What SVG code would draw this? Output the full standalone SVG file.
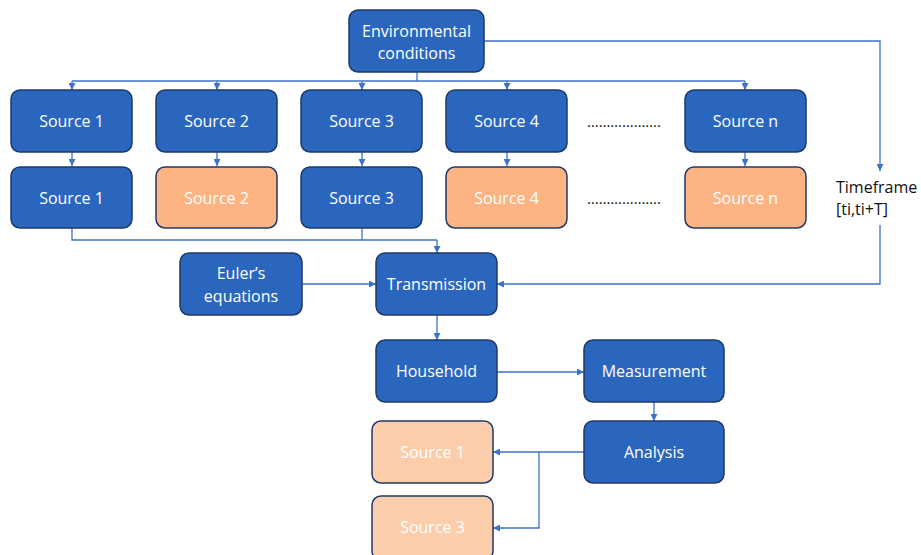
<svg xmlns="http://www.w3.org/2000/svg" width="921" height="555" viewBox="0 0 921 555">
<style>
.b{fill:#2B66BE;stroke:#1E3A6A;stroke-width:1.5}
.o{fill:#FDB482;stroke:#1E3A6A;stroke-width:1.5}
.l{fill:#FCCDAA;stroke:#1E3A6A;stroke-width:1.5}
.t{font-family:"Open Sans","Liberation Sans",sans-serif;font-size:16px;fill:#fff;text-anchor:middle;dominant-baseline:central}
.k{font-family:"Open Sans","Liberation Sans",sans-serif;font-size:16px;fill:#111;dominant-baseline:central}
.d{font-family:"Open Sans","Liberation Sans",sans-serif;font-size:15px;fill:#111;dominant-baseline:central}
.c{fill:none;stroke:#3D72C8;stroke-width:1.3}
</style>
<defs>
<marker id="a" viewBox="0 0 10 10" refX="10" refY="5" markerWidth="7" markerHeight="7" markerUnits="userSpaceOnUse" orient="auto">
<path d="M0,0L10,5L0,10z" fill="#3D72C8"/>
</marker>
</defs>
<g id="connectors">
<path class="c" d="M417,72V81"/>
<path class="c" d="M72,81H745"/>
<path class="c" d="M72,81V90" marker-end="url(#a)"/>
<path class="c" d="M217,81V90" marker-end="url(#a)"/>
<path class="c" d="M362,81V90" marker-end="url(#a)"/>
<path class="c" d="M507,81V90" marker-end="url(#a)"/>
<path class="c" d="M745,81V90" marker-end="url(#a)"/>
<path class="c" d="M484,41H880V171" marker-end="url(#a)"/>
<path class="c" d="M72,152V166" marker-end="url(#a)"/>
<path class="c" d="M217,152V166" marker-end="url(#a)"/>
<path class="c" d="M362,152V166" marker-end="url(#a)"/>
<path class="c" d="M507,152V166" marker-end="url(#a)"/>
<path class="c" d="M745,152V166" marker-end="url(#a)"/>
<path class="c" d="M72,228V240H437"/>
<path class="c" d="M362,228V240"/>
<path class="c" d="M437,240V253" marker-end="url(#a)"/>
<path class="c" d="M302,284H376" marker-end="url(#a)"/>
<path class="c" d="M880,225V284H497" marker-end="url(#a)"/>
<path class="c" d="M437,315V340" marker-end="url(#a)"/>
<path class="c" d="M497,372H584" marker-end="url(#a)"/>
<path class="c" d="M654,402V421" marker-end="url(#a)"/>
<path class="c" d="M584,452H493" marker-end="url(#a)"/>
<path class="c" d="M539,452V528H493" marker-end="url(#a)"/>
</g>
<g id="env"><rect class="b" x="349" y="10" width="135" height="62" rx="9"/><text class="t" x="416.5" y="31">Environmental</text><text class="t" x="416.5" y="53">conditions</text></g>
<g id="s1a"><rect class="b" x="11" y="90" width="121" height="62" rx="9"/><text class="t" x="71.5" y="121">Source 1</text></g>
<g id="s2a"><rect class="b" x="156" y="90" width="121" height="62" rx="9"/><text class="t" x="216.5" y="121">Source 2</text></g>
<g id="s3a"><rect class="b" x="301" y="90" width="121" height="62" rx="9"/><text class="t" x="361.5" y="121">Source 3</text></g>
<g id="s4a"><rect class="b" x="446" y="90" width="121" height="62" rx="9"/><text class="t" x="506.5" y="121">Source 4</text></g>
<g id="sna"><rect class="b" x="685" y="90" width="121" height="62" rx="9"/><text class="t" x="745.5" y="121">Source n</text></g>
<g id="dots1"><text class="d" x="587" y="121">……………….</text></g>
<g id="s1b"><rect class="b" x="11" y="167" width="121" height="61" rx="9"/><text class="t" x="71.5" y="197.5">Source 1</text></g>
<g id="s2b"><rect class="o" x="156" y="167" width="121" height="61" rx="9"/><text class="t" x="216.5" y="197.5">Source 2</text></g>
<g id="s3b"><rect class="b" x="301" y="167" width="121" height="61" rx="9"/><text class="t" x="361.5" y="197.5">Source 3</text></g>
<g id="s4b"><rect class="o" x="446" y="167" width="121" height="61" rx="9"/><text class="t" x="506.5" y="197.5">Source 4</text></g>
<g id="snb"><rect class="o" x="685" y="167" width="121" height="61" rx="9"/><text class="t" x="745.5" y="197.5">Source n</text></g>
<g id="dots2"><text class="d" x="587" y="197.5">……………….</text></g>
<g id="timeframe"><text class="k" x="836" y="187">Timeframe</text><text class="k" x="836" y="209">[ti,ti+T]</text></g>
<g id="euler"><rect class="b" x="180" y="253" width="122" height="62" rx="9"/><text class="t" x="241" y="273">Euler’s</text><text class="t" x="241" y="296">equations</text></g>
<g id="transmission"><rect class="b" x="376" y="253" width="121" height="62" rx="9"/><text class="t" x="436.5" y="284">Transmission</text></g>
<g id="household"><rect class="b" x="376" y="340" width="121" height="62" rx="9"/><text class="t" x="436.5" y="371">Household</text></g>
<g id="measurement"><rect class="b" x="584" y="340" width="140" height="62" rx="9"/><text class="t" x="654" y="371">Measurement</text></g>
<g id="analysis"><rect class="b" x="584" y="421" width="140" height="62" rx="9"/><text class="t" x="654" y="452">Analysis</text></g>
<g id="r1"><rect class="l" x="372" y="421" width="121" height="62" rx="9"/><text class="t" x="432.5" y="452">Source 1</text></g>
<g id="r3"><rect class="l" x="372" y="496" width="121" height="64" rx="9"/><text class="t" x="432.5" y="527">Source 3</text></g>
</svg>
